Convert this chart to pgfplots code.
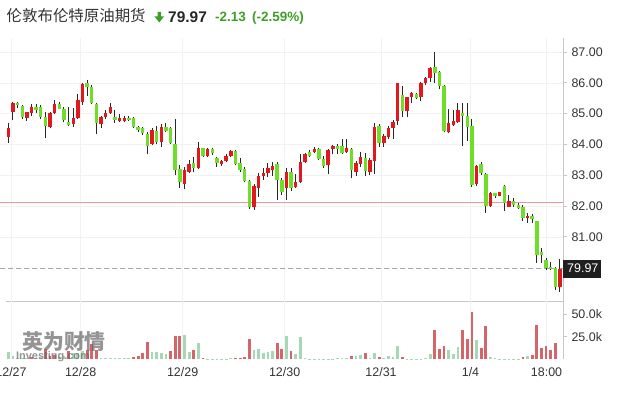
\documentclass[border=0pt]{standalone}
\usepackage{pgfplots}
\pgfplotsset{compat=1.18}
\usepackage{pgfplotstable}
\usepackage{fontspec}
\setmainfont{Liberation Sans}
\newfontfamily\cjk{Noto Sans CJK SC}
\definecolor{cred}{RGB}{226,24,30}
\definecolor{cgreen}{RGB}{110,222,40}
\definecolor{wick}{RGB}{40,40,40}
\definecolor{vred}{RGB}{212,102,106}
\definecolor{vgreen}{RGB}{166,216,182}
\definecolor{hgreen}{RGB}{62,158,38}
\definecolor{txt}{RGB}{51,51,51}
\definecolor{axisgray}{RGB}{200,200,200}
\definecolor{pinkline}{RGB}{238,150,160}

\pgfplotstableread{
x O H L C
0 84.25 84.69 84.06 84.52
1 85.06 85.37 84.79 85.33
4 84.87 85.06 84.77 85.04
5 85.01 85.30 84.93 85.20
9 84.57 85.06 84.52 85.03
10 85.03 85.44 84.98 85.31
14 84.65 85.17 84.57 84.85
15 84.87 85.64 84.81 85.44
16 85.39 85.98 85.28 85.96
20 84.66 84.92 84.54 84.88
21 84.90 85.12 84.81 85.03
22 85.03 85.33 84.98 85.20
24 84.76 84.99 84.72 84.85
25 84.77 84.91 84.72 84.87
31 84.00 84.52 83.98 84.47
33 84.07 84.65 83.93 84.57
38 82.70 83.28 82.54 83.17
39 83.11 83.49 83.06 83.38
41 83.24 84.07 83.20 83.89
43 83.63 83.87 83.60 83.84
46 83.35 83.49 83.31 83.47
47 83.47 83.68 83.44 83.63
48 83.63 83.82 83.60 83.80
53 81.98 82.70 81.87 82.66
54 82.59 83.06 82.30 82.98
55 82.97 83.22 82.84 83.08
56 83.08 83.39 82.95 83.22
57 83.17 83.42 82.98 83.31
60 82.59 83.22 82.19 83.11
62 82.63 83.03 82.59 82.77
63 82.77 83.68 82.74 83.42
64 83.42 83.71 83.39 83.68
66 83.74 83.93 83.71 83.85
69 83.33 83.85 83.03 83.82
70 83.84 83.98 83.68 83.95
73 83.76 84.17 83.71 83.89
75 83.11 83.47 82.97 83.39
76 83.36 83.74 83.28 83.60
78 83.11 83.55 83.00 83.49
79 83.47 84.69 83.03 84.56
81 84.06 84.34 83.93 84.27
82 84.25 84.60 84.17 84.52
83 84.52 84.79 84.17 84.74
84 84.77 86.00 84.63 85.98
86 85.09 85.55 84.88 85.53
87 85.55 85.71 85.35 85.66
89 85.53 86.04 85.42 86.00
90 86.00 86.20 85.93 86.17
91 86.17 86.50 86.04 86.47
95 84.39 85.14 84.36 84.69
96 84.63 85.12 84.60 84.76
97 84.74 85.33 84.71 85.12
101 82.70 83.33 82.65 83.30
104 82.01 82.46 81.98 82.41
106 82.34 82.47 82.32 82.45
108 81.98 82.36 81.96 82.16
112 81.60 81.76 81.46 81.68
119 79.38 80.27 79.22 79.97
}\upc

\pgfplotstableread{
x O H L C
2 85.36 85.38 85.17 85.27
3 85.25 85.29 84.81 84.90
6 85.23 85.30 85.03 85.12
7 85.20 85.28 84.81 84.90
8 84.88 85.06 84.20 84.60
11 85.31 85.39 85.14 85.16
12 85.14 85.20 84.72 84.79
13 84.73 85.20 84.60 84.63
17 85.98 86.09 85.58 85.87
18 85.87 85.93 85.30 85.35
19 85.31 85.35 84.33 84.68
23 84.90 85.12 84.69 84.79
26 84.87 84.91 84.76 84.79
27 84.85 84.88 84.52 84.57
28 84.57 84.61 84.41 84.47
29 84.52 84.57 84.31 84.36
30 84.34 84.39 83.68 83.96
32 84.45 84.61 84.00 84.07
34 84.56 84.69 84.41 84.45
35 84.52 84.57 84.00 84.04
36 84.00 84.82 83.00 83.17
37 83.20 83.33 82.57 82.79
40 83.40 83.60 83.09 83.24
42 83.87 83.89 83.60 83.63
44 83.84 83.89 83.66 83.73
45 83.55 83.60 83.28 83.39
49 83.79 83.82 83.33 83.36
50 83.39 83.55 83.11 83.17
51 83.19 83.28 82.77 82.81
52 82.81 82.84 81.90 81.98
58 83.36 83.42 82.19 82.84
59 82.84 82.90 82.36 82.46
61 83.11 83.22 82.49 82.59
65 83.74 83.82 83.60 83.62
67 83.85 83.87 83.49 83.53
68 83.53 83.63 83.22 83.31
71 83.95 84.01 83.68 83.85
72 83.95 84.17 83.68 83.71
74 83.85 83.89 82.90 83.17
77 83.55 83.71 82.97 83.14
80 84.60 84.66 83.91 84.06
85 85.60 85.90 84.88 85.09
88 85.64 85.68 85.47 85.50
92 86.52 86.99 85.98 86.33
93 86.34 86.39 85.79 85.90
94 85.90 85.93 84.39 84.45
98 85.03 85.35 83.95 84.93
99 84.93 85.35 84.12 84.56
100 84.61 84.81 82.63 82.68
102 83.36 83.44 83.00 83.06
103 83.04 83.06 81.78 82.00
105 82.41 82.43 82.25 82.32
107 82.65 82.68 81.84 82.09
109 82.17 82.27 81.96 82.03
110 82.03 82.09 81.90 81.94
111 81.96 82.03 81.52 81.60
113 81.68 81.74 81.46 81.58
114 81.51 81.51 80.16 80.41
115 80.52 80.63 80.16 80.41
116 80.25 80.30 79.92 79.98
117 80.01 80.19 79.92 79.94
118 79.98 80.01 79.27 79.38
}\downc

\pgfplotstableread{
x v
5 3
8 12
9 4
10 5
13 9
17 10
18 17
19 10
27 3
28 4
29 7
30 19
35 9
36 26
37 26
40 10
42 2
49 2
50 2
51 3
52 23
58 18
59 12
61 9
74 3.7
77 7
80 3
85 3
92 32
93 12
94 15
98 32
99 23
100 52
102 13
103 37
111 3
113 4.5
114 38
115 13
116 15
117 10
118 18
}\volred

\pgfplotstableread{
x v
0 8
1 4
2 1
3 1
4 2
6 2
7 3
11 3
12 4
14 7
15 7
16 9
20 2
21 1
22 1
23 1
24 1
25 1
26 1
31 8
32 8
33 7
34 6
38 27
39 8
41 18
43 0.6
44 0.6
45 0.6
46 0.6
47 0.6
48 1
53 10
54 11
55 7
56 8
57 9
60 26
62 6
63 25
64 1
65 0.6
66 0.6
67 0.6
68 0.8
69 0.8
70 0.8
71 1
72 1
73 1.2
75 4
76 5
78 1
79 7
81 2
82 4
83 3
84 15
86 0.6
87 0.6
88 0.6
89 0.8
90 1
91 6
95 10
96 6
97 14
101 21
104 3
105 1
106 0.6
107 0.6
108 0.6
109 0.8
110 0.8
112 4
}\volgreen

\pgfplotsset{candle/.style={draw=none, mark=none, forget plot,
  error bars/.cd, y dir=plus, y explicit, error mark=none}}

\begin{document}
\begin{tikzpicture}
% ---------- price panel ----------
\begin{axis}[
  at={(0bp,95bp)}, anchor=south west,
  width=563bp, height=263bp, scale only axis,
  xmin=-1.79, xmax=119.65, ymin=78.916, ymax=87.455,
  clip=false,
  axis line style={draw=none},
  xtick={0.58,15.6,37.6,59.6,80.4,99.7,116.1}, xticklabels={},
  xtick style={draw=none},
  ytick={81,82,83,84,85,86,87}, ytick pos=right, yticklabel pos=right,
  tick align=outside, major tick length=4bp,
  ytick style={draw=axisgray, line width=0.8bp},
  yticklabel style={font=\fontsize{12.5}{14}\selectfont, text=txt, xshift=1bp},
  /pgf/number format/.cd, fixed, fixed zerofill, precision=2, assume math mode=true,
  /pgfplots/.cd,
  grid=major, grid style={black!5, line width=0.6bp},
]
\draw[pinkline, line width=0.9bp] (axis cs:-1.79,82.10) -- (axis cs:119.65,82.10);
\draw[black!35, line width=0.8bp, dash pattern=on 5bp off 3bp] (axis cs:-1.79,79.97) -- (axis cs:119.65,79.97);
\draw[axisgray, line width=0.8bp] (rel axis cs:1,0) -- (rel axis cs:1,1);
\draw[axisgray, line width=0.8bp] (axis cs:-0.6,78.916) -- (axis cs:119.65,78.916);
% wicks
\addplot[candle, error bar style={line width=1bp, draw=wick}]
  table[x=x, y=L, y error plus expr=\thisrow{H}-\thisrow{L}] {\upc};
\addplot[candle, error bar style={line width=1bp, draw=wick}]
  table[x=x, y=L, y error plus expr=\thisrow{H}-\thisrow{L}] {\downc};
% bodies
\addplot[candle, error bar style={line width=3.4bp, draw=cred}]
  table[x=x, y=O, y error plus expr=\thisrow{C}-\thisrow{O}] {\upc};
\addplot[candle, error bar style={line width=3.4bp, draw=cgreen}]
  table[x=x, y=C, y error plus expr=\thisrow{O}-\thisrow{C}] {\downc};
\node[fill=black!88, text=white, font=\fontsize{12.5}{14}\selectfont, inner xsep=3bp, inner ysep=0bp,
  minimum height=18bp, anchor=west] at (axis cs:119.65,79.97) {\hspace*{1bp}79.97};
\end{axis}
% ---------- volume panel ----------
\begin{axis}[
  at={(0bp,36.6bp)}, anchor=south west,
  width=563bp, height=58.4bp, scale only axis,
  xmin=-1.79, xmax=119.65, ymin=0, ymax=64.3,
  clip=false,
  axis line style={draw=none},
  xtick={0.58,15.6,37.6,59.6,80.4,99.7,116.1},
  xticklabels={12/27,12/28,12/29,12/30,12/31,1/4,18:00},
  xtick style={draw=none},
  xticklabel style={font=\fontsize{12.5}{14}\selectfont, text=txt, yshift=-1bp},
  ytick={25,50}, yticklabels={25.0k,50.0k}, ytick pos=right, yticklabel pos=right,
  tick align=outside, major tick length=4bp,
  ytick style={draw=axisgray, line width=0.8bp},
  yticklabel style={font=\fontsize{12.5}{14}\selectfont, text=txt, xshift=1bp},
  xmajorgrids, grid style={black!5, line width=0.6bp},
]
\draw[axisgray, line width=0.8bp] (rel axis cs:1,0) -- (rel axis cs:1,1);
\addplot[ycomb, mark=none, draw=vred, line width=2.8bp] table[x=x, y=v] {\volred};
\addplot[ycomb, mark=none, draw=vgreen, line width=2.8bp] table[x=x, y=v] {\volgreen};
\end{axis}
% ---------- header ----------
\node[anchor=base west, inner sep=0pt, text=txt, font=\cjk\fontsize{15.5}{17}\selectfont] at (6.5bp,374bp) {伦敦布伦特原油期货};
\fill[hgreen] (157.5bp,384bp) -- (161bp,384bp) -- (161bp,379.5bp) -- (164bp,379.5bp) -- (159.25bp,373.5bp) -- (154.5bp,379.5bp) -- (157.5bp,379.5bp) -- cycle;
\node[anchor=base west, inner sep=0pt, text=black!85, font=\bfseries\fontsize{15.5}{17}\selectfont] at (168bp,373.5bp) {79.97};
\node[anchor=base west, inner sep=0pt, text=hgreen, font=\bfseries\fontsize{13.5}{15}\selectfont] at (215bp,374.3bp) {-2.13};
\node[anchor=base west, inner sep=0pt, text=hgreen, font=\bfseries\fontsize{13.5}{15}\selectfont] at (252bp,374.3bp) {(-2.59\%)};
% ---------- watermark ----------
\node[font=\cjk\bfseries\fontsize{21}{23}\selectfont, text=black!60, opacity=0.7] at (64bp,54bp) {英为财情};
\node[font=\bfseries\fontsize{11}{12}\selectfont, text=black!60, opacity=0.7] at (53bp,39bp) {Investing.com};
\pgfresetboundingbox
\path[use as bounding box] (0bp,0bp) rectangle (624bp,396bp);
\end{tikzpicture}
\end{document}
